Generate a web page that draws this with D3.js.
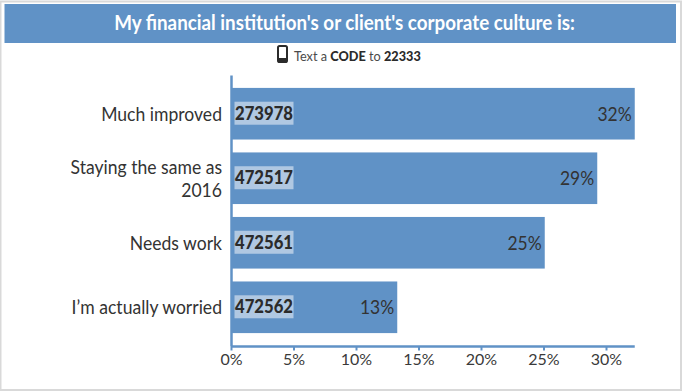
<!DOCTYPE html>
<html><head><meta charset="utf-8">
<script src="https://cdn.jsdelivr.net/npm/d3@7/dist/d3.min.js"></script>
<style>html,body{margin:0;padding:0;background:#fff}svg{display:block}text{font-family:Lato,sans-serif}</style>
</head><body><div id="c"></div>
<script>
const categories = ["Much improved", "Staying the same as 2016", "Needs work", "I\u2019m actually worried"];
const codes = ["273978", "472517", "472561", "472562"];
const values = [32.3, 29.3, 25.1, 13.3];
const valueLabels = ["32%", "29%", "25%", "13%"];
const tickValues = [0, 5, 10, 15, 20, 25, 30];
const titleText = "My financial institution's or client's corporate culture is:";

const W = 682, H = 391, blue = "#6092c6", dark = "#2b2b2b";
const svg = d3.select("#c").append("svg").attr("width", W).attr("height", H);
// horizontal condensing about the text's own anchor point
const squeeze = (sel, f) => sel.each(function () {
  const el = d3.select(this);
  const tx = +el.attr("x") || 0, ty = +el.attr("y") || 0;
  const k = typeof f === "number" ? f : f.width / this.getComputedTextLength();
  el.attr("x", 0).attr("y", 0).attr("transform", `translate(${tx},${ty}) scale(${k},1)`);
});

svg.append("rect").attr("x", 0.5).attr("y", 1.5).attr("width", 680.5).attr("height", 388.5)
  .attr("fill", "#fff").attr("stroke", "#d9d9d9").attr("stroke-width", 2);
svg.append("rect").attr("x", 4.5).attr("y", 4).attr("width", 671.5).attr("height", 39)
  .attr("fill", blue);
svg.append("text").attr("x", 344.5).attr("y", 30).attr("text-anchor", "middle")
  .attr("fill", "#fff").attr("font-size", 20).attr("font-weight", 700)
  .text(titleText).call(squeeze, {width: 461});

const ph = svg.append("g").attr("transform", "translate(277,45)");
ph.append("rect").attr("x", 1).attr("y", 1).attr("width", 9).attr("height", 16)
  .attr("rx", 1.6).attr("fill", "none").attr("stroke", dark).attr("stroke-width", 2);
ph.append("line").attr("x1", 1).attr("x2", 10).attr("y1", 14.5).attr("y2", 14.5)
  .attr("stroke", dark).attr("stroke-width", 3);

const t = svg.append("text").attr("x", 294).attr("y", 61).attr("font-size", 14).attr("fill", "#4a4a4a");
t.append("tspan").text("Text a ");
t.append("tspan").attr("font-weight", 900).attr("fill", dark).text("CODE");
t.append("tspan").text(" to ");
t.append("tspan").attr("font-weight", 900).attr("fill", dark).text("22333");
t.call(squeeze, {width: 127});

const x = d3.scaleLinear().domain([0, 32.3]).range([231, 634.75]);
const y = d3.scaleBand().domain(categories).range([75, 346]).paddingInner(0.2).paddingOuter(0.2);

svg.append("g").selectAll("rect").data(values).join("rect")
  .attr("x", x(0)).attr("y", (d, i) => y(categories[i]))
  .attr("width", d => x(d) - x(0)).attr("height", y.bandwidth()).attr("fill", blue);

const cy = i => y(categories[i]) + y.bandwidth() / 2;
svg.append("g").selectAll("rect").data(codes).join("rect")
  .attr("x", 234.5).attr("y", (d, i) => cy(i) - 12).attr("width", 59).attr("height", 23)
  .attr("fill", "#b0c8e2");
svg.append("g").selectAll("text").data(codes).join("text")
  .attr("x", 235).attr("y", (d, i) => cy(i) + 6)
  .attr("font-size", 19).attr("font-weight", 900).attr("fill", dark)
  .text(d => d).call(squeeze, {width: 58});

svg.append("g").selectAll("text").data(valueLabels).join("text")
  .attr("x", (d, i) => x(values[i]) - 3).attr("y", (d, i) => cy(i) + 7)
  .attr("text-anchor", "end").attr("font-size", 19).attr("fill", "#333").text(d => d)
  .call(squeeze, 0.92);

const catGroup = svg.append("g");
categories.forEach((d, i) => {
  const lines = i === 1 ? ["Staying the same as", "2016"] : [d];
  const top = cy(i) + 7 - (lines.length - 1) * 11.5;
  lines.forEach((l, k) => {
    catGroup.append("text").attr("x", 222).attr("y", top + k * 23)
      .attr("text-anchor", "end").attr("font-size", 19).attr("fill", "#333").text(l)
      .call(squeeze, 0.925);
  });
});

const xAxis = d3.axisBottom(x).tickValues(tickValues).tickFormat(d => d + "%").tickSize(4).tickPadding(2);
const gx = svg.append("g").attr("transform", "translate(0,346.5)").call(xAxis);
gx.select(".domain").attr("stroke", blue).attr("stroke-width", 2.5).attr("d", `M${x(0)},0H${x(32.3)}`);
gx.selectAll(".tick line").attr("stroke", blue).attr("stroke-width", 2);
gx.selectAll(".tick text").attr("fill", "#3a3a3a").attr("font-size", 16).attr("font-family", "Lato,sans-serif")
  .attr("dy", "0.75em").attr("y", 6);
const yAxis = d3.axisLeft(y).tickValues([]).tickSize(0);
const gy = svg.append("g").attr("transform", `translate(${x(0)},0)`).call(yAxis);
gy.select(".domain").attr("stroke", blue).attr("stroke-width", 2.5);
</script></body></html>
